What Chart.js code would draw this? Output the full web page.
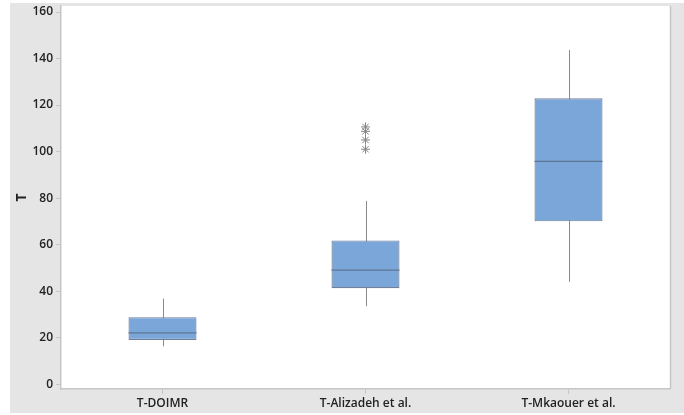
<!DOCTYPE html>
<html>
<head>
<meta charset="utf-8">
<script src="https://cdn.jsdelivr.net/npm/chart.js@4.4.0/dist/chart.umd.min.js"></script>
<style>
  html, body { margin: 0; padding: 0; background: #fff; }
  #wrap { width: 684px; height: 415px; position: relative; }
</style>
</head>
<body>
<div id="wrap"><canvas id="myChart"></canvas></div>
<script>
const groups = ["T-DOIMR", "T-Alizadeh et al.", "T-Mkaouer et al."];
const whiskerLow = [16.3, 33.5, 44];
const q1 = [19, 41.2, 70];
const median = [22, 49, 95.8];
const q3 = [28.8, 61.8, 122.9];
const whiskerHigh = [36.8, 78.8, 143.7];
const outlierGroup = ["T-Alizadeh et al.", "T-Alizadeh et al.", "T-Alizadeh et al.", "T-Alizadeh et al."];
const outlierValue = [101, 105, 108.7, 110.6];
const yTicks = [0, 20, 40, 60, 80, 100, 120, 140, 160];

const ctx = document.getElementById("myChart");

const boxPlugin = {
  id: "boxParts",
  beforeDraw(chart) {
    const c = chart.ctx;
    const a = chart.chartArea;
    c.save();
    c.fillStyle = "#ffffff";
    c.fillRect(0, 0, chart.width, chart.height);
    c.fillStyle = "#e5e5e5";
    c.fillRect(10, 3, chart.width - 10, 410);
    c.fillStyle = "#ffffff";
    c.fillRect(a.left, a.top, a.right - a.left, a.bottom - a.top);
    c.strokeStyle = "#c6c6c6";
    c.lineWidth = 1.5;
    c.beginPath();
    c.moveTo(a.right + 0.5, a.top);
    c.lineTo(a.right + 0.5, a.bottom);
    c.stroke();
    c.restore();
  },
  beforeDatasetsDraw(chart) {
    const c = chart.ctx;
    const y = chart.scales.y;
    const meta = chart.getDatasetMeta(0);
    c.save();
    c.strokeStyle = "#8a8a8a";
    c.lineWidth = 1;
    meta.data.forEach((bar, i) => {
      const x = Math.round(bar.x) + 0.5;
      c.beginPath();
      c.moveTo(x, y.getPixelForValue(whiskerLow[i]));
      c.lineTo(x, y.getPixelForValue(whiskerHigh[i]));
      c.stroke();
    });
    c.restore();
  },
  afterDatasetsDraw(chart) {
    const c = chart.ctx;
    const y = chart.scales.y;
    const meta = chart.getDatasetMeta(0);
    c.save();
    c.strokeStyle = "#5f7692";
    c.lineWidth = 1.2;
    meta.data.forEach((bar, i) => {
      const py = y.getPixelForValue(median[i]);
      c.beginPath();
      c.moveTo(bar.x - bar.width / 2, py);
      c.lineTo(bar.x + bar.width / 2, py);
      c.stroke();
    });
    c.restore();
  }
};

const tickFont = { family: "'Open Sans', 'Liberation Sans', sans-serif", size: 12, weight: "600" };

let myChart = new Chart(ctx, {
  type: "bar",
  data: {
    labels: groups,
    datasets: [
      {
        label: "box",
        data: groups.map((g, i) => [q1[i], q3[i]]),
        backgroundColor: "#7ba6da",
        borderColor: "#6f8098",
        borderWidth: 1.2,
        borderSkipped: false,
        barPercentage: 0.335,
        categoryPercentage: 1,
        order: 2,
      },
      {
        type: "line",
        label: "outliers",
        data: outlierGroup.map((g, i) => ({ x: g, y: outlierValue[i] })),
        showLine: false,
        pointStyle: "star",
        pointRadius: 4.5,
        borderColor: "#858585",
        borderWidth: 1,
        order: 1,
      },
    ],
  },
  options: {
    responsive: true,
    maintainAspectRatio: false,
    animation: false,
    layout: { padding: { left: 10, right: 14, top: 6, bottom: 0 } },
    plugins: {
      legend: { display: false },
      tooltip: { enabled: false },
    },
    scales: {
      x: {
        grid: { display: true, drawOnChartArea: false, tickLength: 5, color: "#c6c6c6", offset: false },
        border: { display: true, color: "#c6c6c6", width: 1.5 },
        ticks: { color: "#222", font: tickFont, padding: 2 },
        afterFit(scale) { scale.height = 26; scale.paddingLeft = 0; scale.paddingRight = 0; },
      },
      y: {
        min: -2.1,
        max: 162.6,
        afterBuildTicks(scale) { scale.ticks = yTicks.map(v => ({ value: v })); },
        grid: { display: true, drawOnChartArea: false, tickLength: 5, color: "#c6c6c6" },
        border: { display: true, color: "#c6c6c6", width: 1.5 },
        ticks: { color: "#222", font: tickFont, padding: 3 },
        title: { display: true, text: "T", color: "#222", font: { family: "'Open Sans', sans-serif", size: 14, weight: "700" }, padding: { top: 4, bottom: 0 } },
        afterFit(scale) { scale.width = 51; scale.paddingTop = 0; scale.paddingBottom = 0; },
      },
    },
  },
  plugins: [boxPlugin],
});
</script>
</body>
</html>
